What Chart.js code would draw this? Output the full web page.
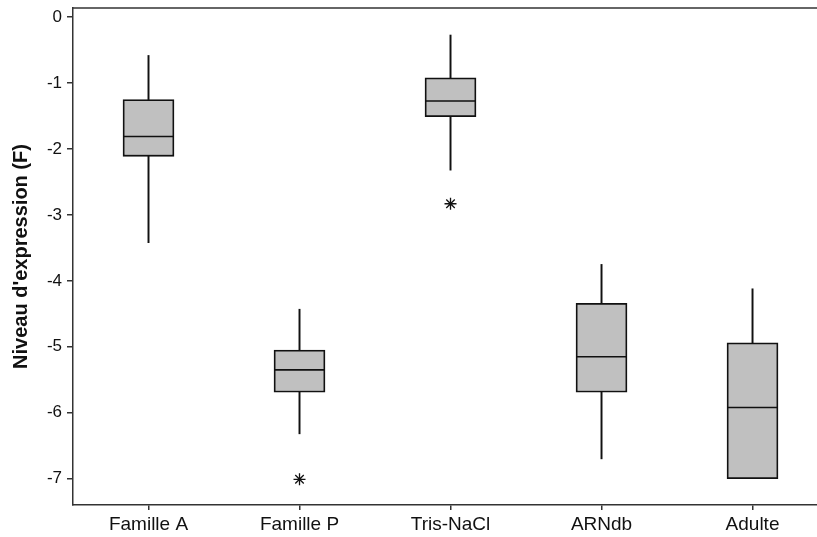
<!DOCTYPE html>
<html>
<head>
<meta charset="utf-8">
<title>Niveau d'expression</title>
<script src="https://cdn.jsdelivr.net/npm/chart.js@4.4.1/dist/chart.umd.min.js"></script>
<style>
  html, body { margin: 0; padding: 0; background: #fff; }
  #wrap { width: 817px; height: 537px; }
</style>
</head>
<body>
<div id="wrap"><canvas id="box-chart" width="817" height="537"></canvas></div>
<script>
// ── Data ──────────────────────────────────────
const CATEGORIES   = ['Famille A', 'Famille P', 'Tris-NaCl', 'ARNdb', 'Adulte'];
const WHISKER_LOW  = [-3.42, -6.32, -2.32, -6.70, -7.00];
const Q1           = [-2.11, -5.69, -1.51, -5.69, -7.00];
const MEDIAN       = [-1.81, -5.35, -1.27, -5.15, -5.92];
const Q3           = [-1.25, -5.05, -0.92, -4.34, -4.94];
const WHISKER_HIGH = [-0.58, -4.43, -0.27, -3.75, -4.12];
const OUTLIERS     = [[], [-7.01], [-2.83], [], []];
const Y_TICKS      = [0, -1, -2, -3, -4, -5, -6, -7];

const INK = '#111';
const FONT = "'Liberation Sans', Arial, sans-serif";

// top frame line (the reference has a box open on the right)
const topFrame = {
  id: 'topFrame',
  afterDraw(chart) {
    const { ctx, chartArea: a } = chart;
    ctx.save();
    ctx.strokeStyle = '#333';
    ctx.lineWidth = 1.5;
    ctx.beginPath();
    ctx.moveTo(a.left - 0.75, a.top);
    ctx.lineTo(a.right, a.top);
    ctx.stroke();
    ctx.restore();
  }
};

const idx = CATEGORIES.map((_, i) => i);

new Chart(document.getElementById('box-chart').getContext('2d'), {
  type: 'bar',
  data: {
    datasets: [
      // median line
      {
        type: 'scatter',
        data: idx.map(i => ({ x: i, y: MEDIAN[i] })),
        pointStyle: 'line', radius: 25, hoverRadius: 25,
        borderColor: INK, borderWidth: 1.6,
        order: 0,
      },
      // outliers
      {
        type: 'scatter',
        data: idx.flatMap(i => OUTLIERS[i].map(v => ({ x: i, y: v }))),
        pointStyle: 'star', radius: 6, hoverRadius: 6,
        borderColor: INK, borderWidth: 1.3,
        order: 0,
      },
      // boxes Q1..Q3
      {
        data: idx.map(i => ({ x: i, y: [Q1[i], Q3[i]] })),
        backgroundColor: '#c0c0c0', borderColor: INK, borderWidth: 1.8,
        borderSkipped: false, barThickness: 51, grouped: false,
        order: 1,
      },
      // whiskers
      {
        data: idx.map(i => ({ x: i, y: [WHISKER_LOW[i], Q1[i]] })),
        backgroundColor: INK, borderWidth: 0, barThickness: 1.3, grouped: false,
        order: 2,
      },
      {
        data: idx.map(i => ({ x: i, y: [Q3[i], WHISKER_HIGH[i]] })),
        backgroundColor: INK, borderWidth: 0, barThickness: 1.3, grouped: false,
        order: 2,
      },
    ],
  },
  options: {
    responsive: false,
    animation: false,
    layout: { autoPadding: false, padding: { top: 8, right: 0, left: 0, bottom: 0 } },
    plugins: { legend: { display: false }, tooltip: { enabled: false } },
    scales: {
      x: {
        type: 'linear',
        offset: false,
        min: -0.5, max: 4.427,
        afterBuildTicks: axis => { axis.ticks = idx.map(i => ({ value: i })); },
        afterFit: axis => { axis.height = 32; axis.paddingRight = 0; axis.paddingLeft = 0; },
        ticks: {
          callback: v => CATEGORIES[v] ?? '',
          color: INK, font: { family: FONT, size: 19 }, padding: 3,
          maxRotation: 0, autoSkip: false,
        },
        grid: { offset: false, drawOnChartArea: false, tickLength: 5, color: '#333', lineWidth: 1.5 },
        border: { display: true, color: '#333', width: 1.5 },
      },
      y: {
        min: -7.40, max: 0.14,
        afterBuildTicks: axis => { axis.ticks = Y_TICKS.map(v => ({ value: v })); },
        afterFit: axis => { axis.width = 73; axis.paddingTop = 0; axis.paddingBottom = 0; },
        ticks: {
          color: INK, font: { family: FONT, size: 17 }, padding: 5,
        },
        grid: { drawOnChartArea: false, tickLength: 6, color: '#333', lineWidth: 1.5 },
        border: { display: true, color: '#333', width: 1.5 },
        title: {
          display: true, text: "Niveau d'expression (F)",
          color: INK, font: { family: FONT, size: 20, weight: 'bold' },
          padding: { top: 9, bottom: 0 },
        },
      },
    },
  },
  plugins: [topFrame],
});
</script>
</body>
</html>
